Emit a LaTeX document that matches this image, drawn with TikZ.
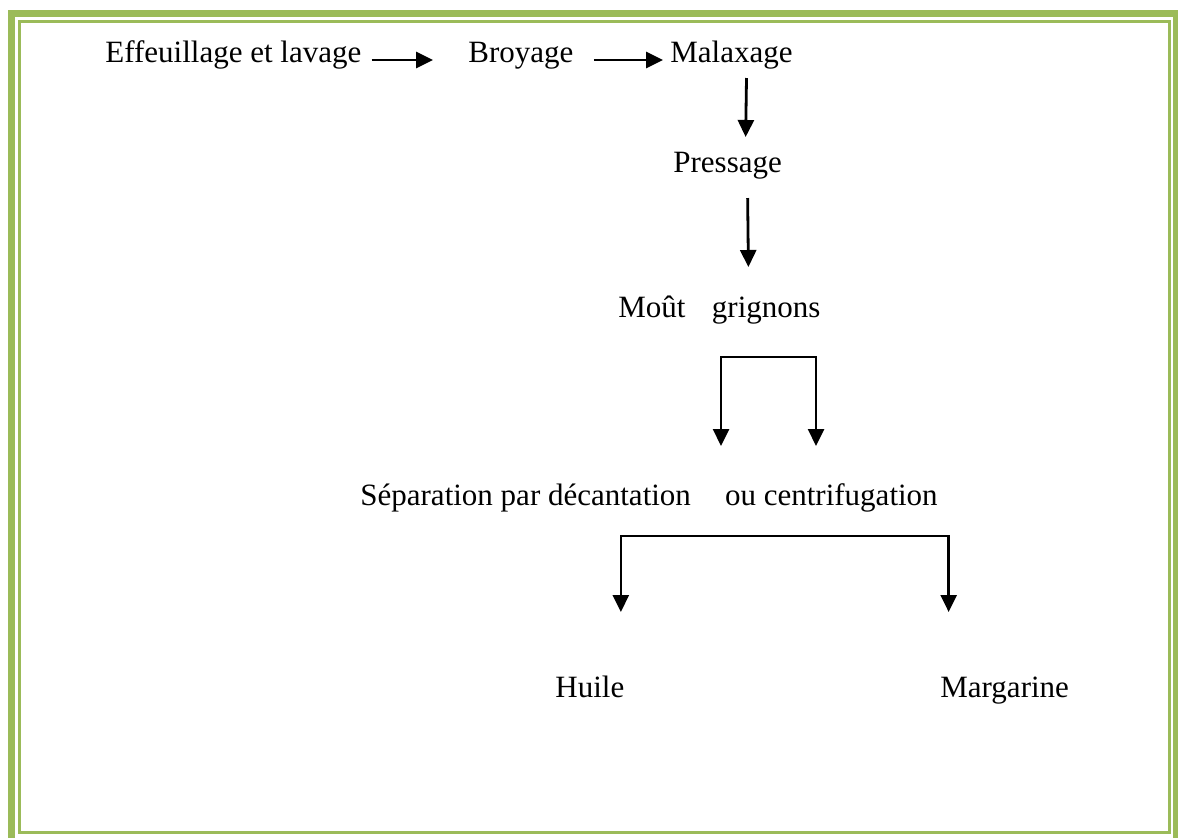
\documentclass[tikz,border=0pt]{standalone}
\usepackage{fontspec}
\setmainfont{Liberation Serif}
\usetikzlibrary{arrows.meta}
\definecolor{framegreen}{HTML}{9BBB59}

\begin{document}
\begin{tikzpicture}[
      x=0.5pt, y=-0.5pt,
      phase/.style={inner sep=0pt, anchor=base west,
        font=\fontsize{15.5}{18}\selectfont},
      flow/.style={-{Triangle[length=8.5pt, width=8pt]}, line width=1.4pt},
      split/.style={{Triangle[length=8.5pt, width=8pt]}-{Triangle[length=8.5pt, width=8pt]},
        line width=1.3pt},
      >=Latex
    ]
      \useasboundingbox (0,0) rectangle (1178,837);
      \fill[white] (0,0) rectangle (1178,837);
      % double green frame
      \draw[framegreen, line width=3.75pt] (11.25,13.5) rectangle (1176.75,848);
      \draw[framegreen, line width=1.25pt] (19.5,21.5) rectangle (1169.5,832.5);

      \node[phase] (effeu) at (105,62) {Effeuillage et lavage};
      \node[phase] (broy) at (468,62) {Broyage};
      \node[phase] (malax) at (670,62) {Malaxage};
      \node[phase] (press) at (673,172) {Pressage};
      \node[phase] (mout) at (618,317) {Moût\hspace{0.85em}grignons};
      \node[phase] (sepa) at (360,505)
        {Séparation par décantation\hspace{1.1em}ou centrifugation};
      \node[phase] (huile) at (555,697) {Huile};
      \node[phase] (marg) at (940,697) {Margarine};

      \draw[flow] ([shift={(10,-2)}]effeu.base east) -- ([shift={(-35,-2)}]broy.base west);
      \draw[flow] ([shift={(20,-2)}]broy.base east) -- ([shift={(-7,-2)}]malax.base west);
      \draw[flow] ([shift={(15,16)}]malax.base) -- ([shift={(18,-35)}]press.base);
      \draw[flow] ([shift={(20,26)}]press.base) -- ([shift={(29,-50)}]mout.base);

      % brackets below Mout grignons and below the separation
      \coordinate (tipA) at ([shift={(72,-59)}]sepa.base);
      \coordinate (tipB) at ([shift={(167,-59)}]sepa.base);
      \draw[split] (tipA) -- ++(0,-89) -| (tipB);
      \coordinate (tipH) at ([shift={(31,-85)}]huile.base);
      \coordinate (tipM) at ([shift={(-56,-85)}]marg.base);
      \draw[split] (tipH) -- ++(0,-76) -| (tipM);
    \end{tikzpicture}
\end{document}
